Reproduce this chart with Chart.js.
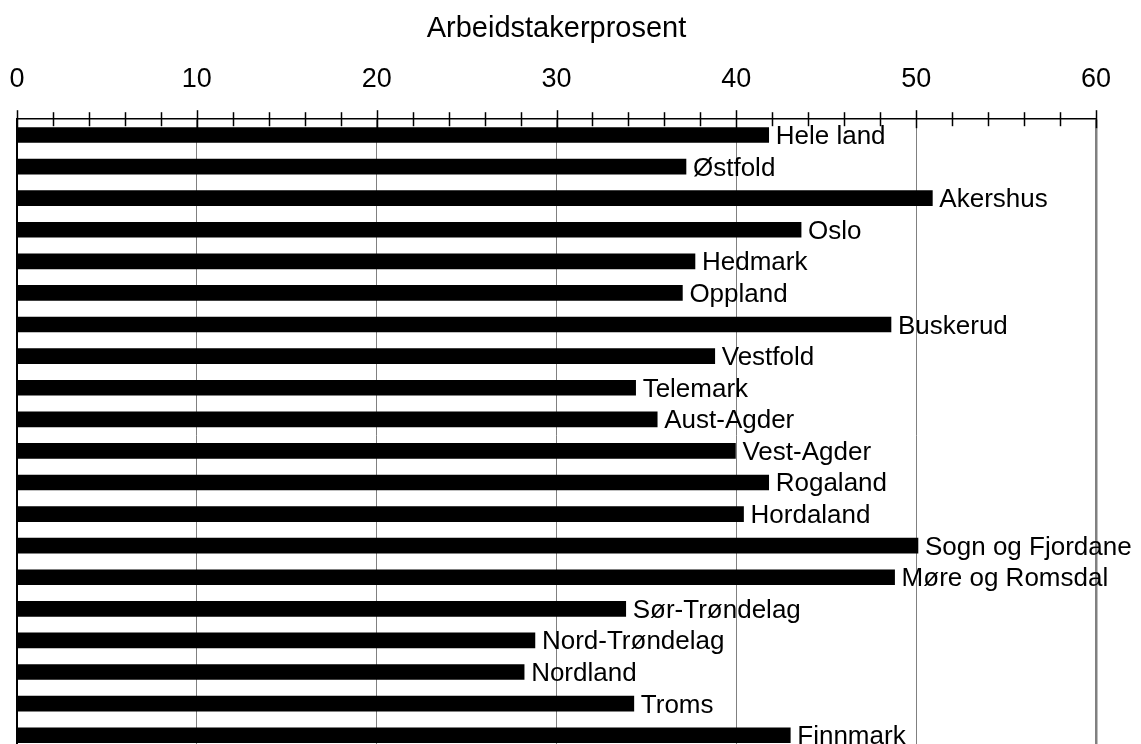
<!DOCTYPE html>
<html>
<head>
<meta charset="utf-8">
<script src="https://cdn.jsdelivr.net/npm/chart.js@4.4.1/dist/chart.umd.min.js"></script>
<style>
  html, body { margin:0; padding:0; background:#fff; overflow:hidden; }
  #wrap { width:1141px; height:760px; position:relative; }
</style>
</head>
<body>
<div id="wrap"><canvas id="chart"></canvas></div>
<script>
const regions = [
  'Hele land', 'Østfold', 'Akershus', 'Oslo', 'Hedmark', 'Oppland', 'Buskerud',
  'Vestfold', 'Telemark', 'Aust-Agder', 'Vest-Agder', 'Rogaland', 'Hordaland',
  'Sogn og Fjordane', 'Møre og Romsdal', 'Sør-Trøndelag', 'Nord-Trøndelag',
  'Nordland', 'Troms', 'Finnmark'
];
const percent = [
  41.8, 37.2, 50.9, 43.6, 37.7, 37.0, 48.6,
  38.8, 34.4, 35.6, 39.95, 41.8, 40.4,
  50.1, 48.8, 33.85, 28.8,
  28.2, 34.3, 43.0
];
const axisTitle = 'Arbeidstakerprosent';
const xMin = 0, xMax = 60, minorStep = 2, majorStep = 10;

const FONT = '"Liberation Sans", Arial, sans-serif';

// bar end labels (region names)
const barLabels = {
  id: 'barLabels',
  afterDatasetsDraw(chart) {
    const ctx = chart.ctx;
    const meta = chart.getDatasetMeta(0);
    ctx.save();
    ctx.font = '26px ' + FONT;
    ctx.fillStyle = '#000';
    ctx.textAlign = 'left';
    ctx.textBaseline = 'alphabetic';
    meta.data.forEach((bar, i) => {
      ctx.fillText(regions[i], bar.x + 7, bar.y + 9);
    });
    ctx.restore();
  }
};

// tick marks crossing the top axis line
const crossTicks = {
  id: 'crossTicks',
  afterDraw(chart) {
    const ctx = chart.ctx;
    const x = chart.scales.x;
    const top = chart.chartArea.top;
    ctx.save();
    ctx.strokeStyle = '#000';
    ctx.lineWidth = 1.5;
    x.ticks.forEach(t => {
      const px = Math.round(x.getPixelForValue(t.value)) + 0.5;
      const major = t.value % majorStep === 0;
      ctx.beginPath();
      ctx.moveTo(px, top - (major ? 9 : 7));
      ctx.lineTo(px, top + (major ? 9 : 7));
      ctx.stroke();
    });
    ctx.restore();
  }
};

new Chart(document.getElementById('chart').getContext('2d'), {
  type: 'bar',
  data: {
    labels: regions,
    datasets: [{ data: percent, backgroundColor: '#000', borderWidth: 0, barThickness: 15 }]
  },
  options: {
    indexAxis: 'y',
    responsive: true,
    maintainAspectRatio: false,
    animation: false,
    layout: { padding: { top: 12, left: 17, right: 45, bottom: 9 } },
    plugins: { legend: { display: false }, tooltip: { enabled: false } },
    scales: {
      x: {
        position: 'top',
        min: xMin, max: xMax,
        ticks: {
          stepSize: minorStep,
          autoSkip: false,
          maxRotation: 0,
          color: '#000',
          font: { family: FONT, size: 27 },
          padding: 0,
          callback: v => (v % majorStep === 0 ? String(v) : '')
        },
        grid: {
          color: c => (c.tick && c.tick.value % majorStep === 0 ? '#808080' : 'rgba(0,0,0,0)'),
          lineWidth: c => (c.tick && c.tick.value === xMax ? 2.5 : 1),
          tickLength: 23,
          tickColor: 'rgba(0,0,0,0)'
        },
        border: { color: '#000', width: 1.5 },
        title: {
          display: true,
          text: axisTitle,
          color: '#000',
          font: { family: FONT, size: 29 },
          padding: { top: 0, bottom: 17 }
        }
      },
      y: {
        ticks: { display: false },
        grid: { display: false, drawTicks: false },
        border: { color: '#000', width: 2 },
        afterFit: s => { s.width = 0; }
      }
    }
  },
  plugins: [barLabels, crossTicks]
});
</script>
</body>
</html>
